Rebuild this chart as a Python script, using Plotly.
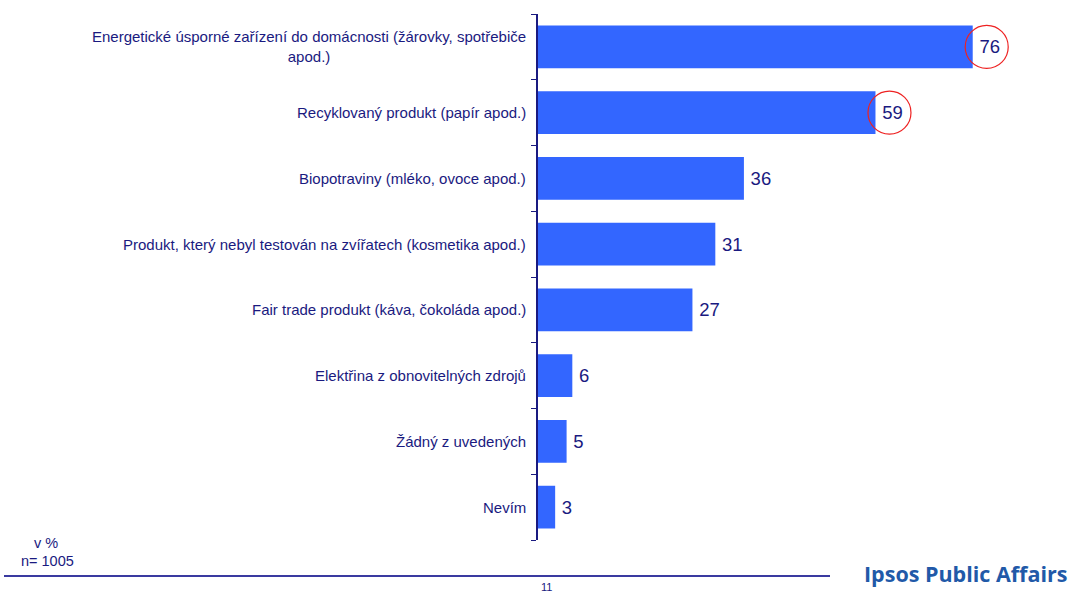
import plotly.graph_objects as go

# Survey answers (share of respondents, %)
categories = [
    "Energetické úsporné zařízení do domácnosti (žárovky, spotřebiče<br>apod.)",
    "Recyklovaný produkt (papír apod.)",
    "Biopotraviny (mléko, ovoce apod.)",
    "Produkt, který nebyl testován na zvířatech (kosmetika apod.)",
    "Fair trade produkt (káva, čokoláda apod.)",
    "Elektřina z obnovitelných zdrojů",
    "Žádný z uvedených",
    "Nevím",
]
values = [76, 59, 36, 31, 27, 6, 5, 3]
highlighted = [0, 1]  # answers circled in red

W, H = 1072, 594
ML, MR, MT, MB = 538, 34, 14, 54
PW, PH = W - ML - MR, H - MT - MB
PX_PER_UNIT = 5.72

NAVY = "#1a1a80"
BAR = "#3366ff"

def px_x(px):
    return (px - ML) / PW

def px_y(py):
    return (H - MB - py) / PH

ids = list(range(len(categories)))

fig = go.Figure(
    go.Bar(
        x=values,
        y=ids,
        orientation="h",
        width=0.65,
        marker=dict(color=BAR, line=dict(width=0)),
        text=["\u2009" + str(v) for v in values],
        textposition="outside",
        textfont=dict(size=18.5, color=NAVY, family="Liberation Sans"),
        cliponaxis=False,
        hoverinfo="skip",
    )
)

annotations = []
for i, lab in zip(ids, categories):
    annotations.append(dict(
        x=0, y=i, xref="x", yref="y", text=lab, showarrow=False,
        xanchor="right", yanchor="middle", xshift=-10, align="center",
        font=dict(size=15, color=NAVY, family="Liberation Sans"),
    ))

annotations += [
    dict(x=px_x(46), y=px_y(543), xref="paper", yref="paper", text="v %",
         showarrow=False, xanchor="center", yanchor="middle",
         font=dict(size=14.5, color=NAVY, family="Liberation Sans")),
    dict(x=px_x(19), y=px_y(561), xref="paper", yref="paper", text="n= 1005",
         showarrow=False, xanchor="left", yanchor="middle",
         font=dict(size=14.5, color=NAVY, family="Liberation Sans")),
    dict(x=px_x(546), y=px_y(587), xref="paper", yref="paper", text="11",
         showarrow=False, xanchor="center", yanchor="middle",
         font=dict(size=11, color=NAVY, family="Liberation Sans")),
    dict(x=px_x(1069), y=px_y(573), xref="paper", yref="paper",
         text="<b>Ipsos Public Affairs</b>", showarrow=False,
         xanchor="right", yanchor="middle",
         font=dict(size=21.5, color="#2159a8", family="Open Sans")),
]

shapes = [
    dict(type="line", xref="paper", yref="paper",
         x0=px_x(4), x1=px_x(830), y0=px_y(576), y1=px_y(576),
         line=dict(color="#3a3aa0", width=2)),
]
for i in highlighted:
    shapes.append(dict(
        type="circle", xref="x", yref="y",
        xsizemode="pixel", ysizemode="pixel",
        xanchor=values[i], yanchor=i,
        x0=-7.5, x1=35.5, y0=-21.5, y1=21.5,
        line=dict(color="#ee2222", width=1.2),
    ))

fig.update_layout(
    width=W, height=H,
    margin=dict(l=ML, r=MR, t=MT, b=MB),
    paper_bgcolor="white", plot_bgcolor="white",
    showlegend=False,
    annotations=annotations,
    shapes=shapes,
    xaxis=dict(range=[0, PW / PX_PER_UNIT], visible=False, fixedrange=True),
    yaxis=dict(
        range=[len(categories) - 0.5, -0.5],
        showline=True, linecolor=NAVY, linewidth=1.5,
        tickmode="array", tickvals=[i - 0.5 for i in range(len(categories) + 1)],
        ticktext=[""] * (len(categories) + 1),
        ticks="outside", ticklen=5, tickcolor=NAVY, tickwidth=1,
        showgrid=False, zeroline=False, fixedrange=True,
    ),
    font=dict(family="Liberation Sans", color=NAVY),
)

fig.write_html("out.html", config={"displayModeBar": False})
